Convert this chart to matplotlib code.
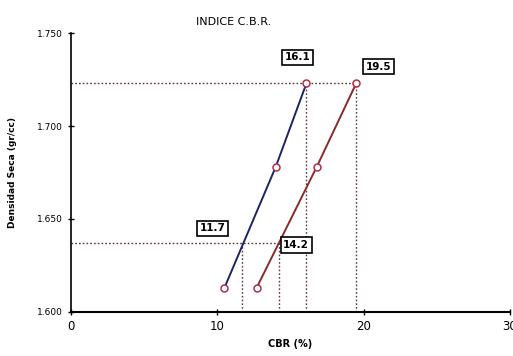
import matplotlib.pyplot as plt

# datos
cbr_a = [10.5, 14.0, 16.1]
dens_a = [1.613, 1.678, 1.723]
cbr_b = [12.7, 16.8, 19.5]
dens_b = [1.613, 1.678, 1.723]

dens_max = 1.723
dens_95 = 1.637
cbr_95 = [11.7, 14.2]
cbr_100 = [16.1, 19.5]
etiquetas_95 = ["11.7", "14.2"]
etiquetas_100 = ["16.1", "19.5"]

xticks = [0, 10, 20, 30]
yticks = [1.600, 1.650, 1.700, 1.750]

fig = plt.figure(figsize=(5.13, 3.56), dpi=100)
ax = fig.add_axes([0.138, 0.124, 0.856, 0.783])

dot = dict(color="#5a3a3a", linestyle=(0, (1.2, 1.5)), linewidth=1.0)

# lineas de referencia
ax.plot([0, cbr_100[1]], [dens_max, dens_max], **dot)
ax.plot([0, cbr_95[1]], [dens_95, dens_95], **dot)
for x in cbr_100:
    ax.plot([x, x], [1.600, dens_max], **dot)
for x in cbr_95:
    ax.plot([x, x], [1.600, dens_95], **dot)

ax.plot(cbr_a, dens_a, color="#1c2466", linewidth=1.4, marker="o",
        markersize=5, markerfacecolor="white", markeredgecolor="#b0304a",
        markeredgewidth=1.1, zorder=3)
ax.plot(cbr_b, dens_b, color="#8a2a2a", linewidth=1.4, marker="o",
        markersize=5, markerfacecolor="white", markeredgecolor="#b0304a",
        markeredgewidth=1.1, zorder=3)

box = dict(boxstyle="square,pad=0.25", facecolor="white", edgecolor="black", linewidth=1.2)
ax.text(15.5, 1.737, etiquetas_100[0], fontsize=7.5, fontweight="bold", ha="center", va="center", bbox=box)
ax.text(21.0, 1.732, etiquetas_100[1], fontsize=7.5, fontweight="bold", ha="center", va="center", bbox=box)
ax.text(9.7, 1.645, etiquetas_95[0], fontsize=7.5, fontweight="bold", ha="center", va="center", bbox=box)
ax.text(15.4, 1.636, etiquetas_95[1], fontsize=7.5, fontweight="bold", ha="center", va="center", bbox=box)

ax.set_xlim(0, 30)
ax.set_ylim(1.600, 1.750)
ax.set_xticks(xticks)
ax.set_xticklabels([str(t) for t in xticks], fontsize=8.5)
ax.set_yticks(yticks)
ax.set_yticklabels(["%.3f" % t for t in yticks], fontsize=6.5)
ax.tick_params(direction="inout", length=5, width=1)

ax.spines["top"].set_visible(False)
ax.spines["right"].set_visible(False)
ax.spines["left"].set_linewidth(1.2)
ax.spines["bottom"].set_linewidth(1.5)

ax.set_title("INDICE C.B.R.", fontsize=8, pad=6, x=0.37)
ax.set_xlabel("CBR (%)", fontsize=7, fontweight="bold")
ax.set_ylabel("Densidad Seca (gr/cc)", fontsize=6.5, fontweight="bold", labelpad=14)

fig.savefig("out.png", dpi=100)
